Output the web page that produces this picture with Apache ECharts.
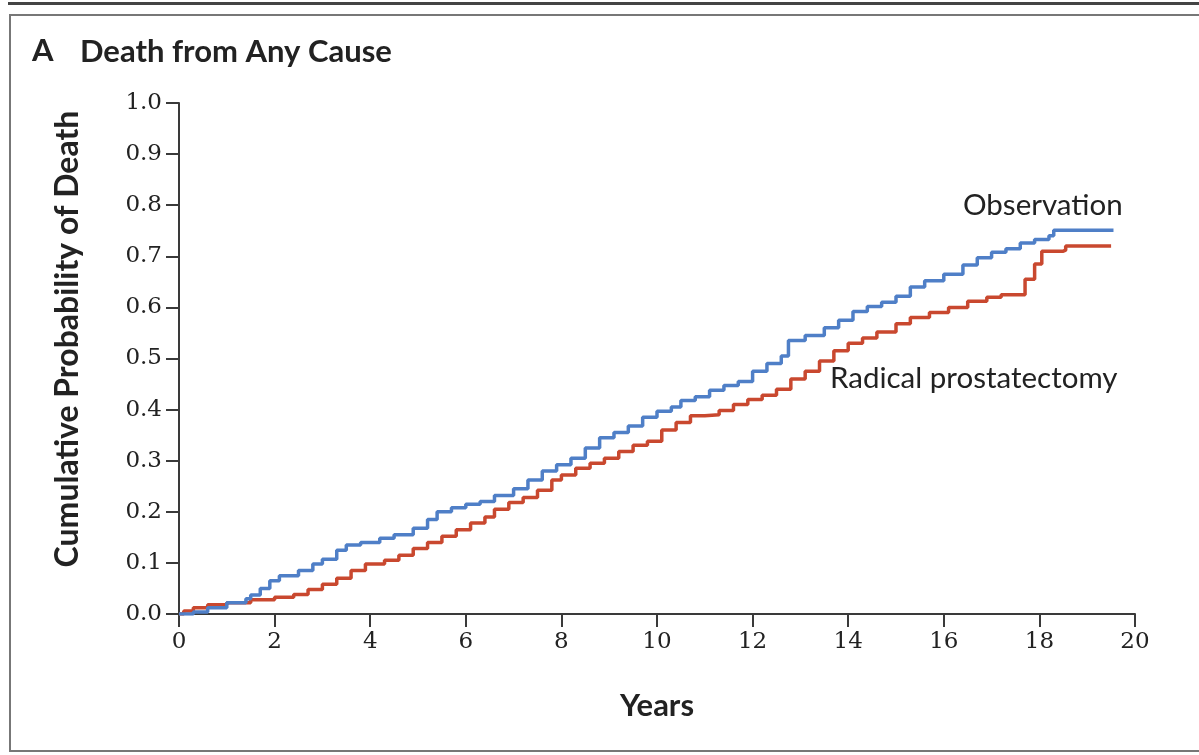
<!DOCTYPE html>
<html>
<head>
<meta charset="utf-8">
<script src="https://cdn.jsdelivr.net/npm/echarts@6/dist/echarts.min.js"></script>
<style>
  html, body { margin: 0; padding: 0; background: #fff; }
  #chart { width: 1199px; height: 755px; }
</style>
</head>
<body>
<div id="chart"></div>
<script>
// Kaplan-Meier style cumulative death curves
const yTicks = [0, 0.1, 0.2, 0.3, 0.4, 0.5, 0.6, 0.7, 0.8, 0.9, 1.0];
const xTicks = [0, 2, 4, 6, 8, 10, 12, 14, 16, 18, 20];

const observationYears = [0, 0.3, 0.6, 1.0, 1.4, 1.5, 1.7, 1.9, 2.1, 2.5, 2.8, 3.0, 3.3, 3.5, 3.8, 4.2, 4.5, 4.9, 5.2, 5.4, 5.7, 6.0, 6.3, 6.6, 7.0, 7.3, 7.6, 7.9, 8.2, 8.5, 8.8, 9.1, 9.4, 9.7, 10.0, 10.3, 10.5, 10.8, 11.1, 11.4, 11.7, 12.0, 12.3, 12.6, 12.75, 13.1, 13.5, 13.8, 14.1, 14.4, 14.7, 15.0, 15.3, 15.6, 16.0, 16.4, 16.7, 17.0, 17.3, 17.6, 17.9, 18.2, 18.3, 19.55];
const observationValues = [0, 0.004, 0.012, 0.022, 0.03, 0.037, 0.05, 0.065, 0.075, 0.085, 0.098, 0.107, 0.125, 0.135, 0.14, 0.148, 0.155, 0.168, 0.185, 0.2, 0.208, 0.215, 0.22, 0.232, 0.245, 0.262, 0.28, 0.292, 0.305, 0.325, 0.345, 0.355, 0.368, 0.385, 0.397, 0.405, 0.418, 0.425, 0.438, 0.447, 0.455, 0.475, 0.49, 0.505, 0.535, 0.545, 0.56, 0.575, 0.592, 0.602, 0.61, 0.622, 0.64, 0.652, 0.665, 0.683, 0.697, 0.708, 0.715, 0.726, 0.733, 0.74, 0.751, 0.751];

const surgeryYears = [0, 0.1, 0.3, 0.6, 1.0, 1.5, 2.0, 2.4, 2.7, 3.0, 3.3, 3.6, 3.9, 4.3, 4.6, 4.9, 5.2, 5.5, 5.8, 6.1, 6.4, 6.6, 6.9, 7.2, 7.5, 7.8, 8.0, 8.3, 8.6, 8.9, 9.2, 9.5, 9.8, 10.1, 10.4, 10.7, 11.0, 11.3, 11.6, 11.9, 12.2, 12.5, 12.8, 13.1, 13.4, 13.7, 14.0, 14.3, 14.6, 15.0, 15.3, 15.7, 16.1, 16.5, 16.9, 17.2, 17.55, 17.7, 17.9, 18.05, 18.5, 18.55, 19.5];
const surgeryValues = [0, 0.006, 0.012, 0.018, 0.022, 0.028, 0.033, 0.038, 0.048, 0.058, 0.07, 0.085, 0.098, 0.105, 0.115, 0.128, 0.14, 0.152, 0.165, 0.178, 0.19, 0.205, 0.218, 0.228, 0.242, 0.262, 0.272, 0.285, 0.295, 0.305, 0.318, 0.33, 0.338, 0.36, 0.375, 0.388, 0.39, 0.398, 0.41, 0.42, 0.428, 0.44, 0.46, 0.475, 0.495, 0.515, 0.53, 0.54, 0.552, 0.568, 0.58, 0.59, 0.6, 0.612, 0.62, 0.625, 0.625, 0.655, 0.685, 0.71, 0.712, 0.72, 0.72];

const pair = (xs, ys) => xs.map((x, i) => [x, ys[i]]);

const sans = "Lato, 'Open Sans', sans-serif";
const serif = "'DejaVu Serif', 'Liberation Serif', serif";
const axisColor = "#3a3a3a";

let myChart = echarts.init(document.getElementById("chart"));

let options = {
  animation: false,
  backgroundColor: "#fff",
  grid: { left: 179, right: 64, top: 103, bottom: 141 },
  xAxis: {
    type: "value",
    min: 0,
    max: 20,
    interval: 2,
    name: "Years",
    nameLocation: "middle",
    nameGap: 76,
    nameTextStyle: { fontFamily: sans, fontWeight: "bold", fontSize: 31, color: "#222" },
    axisLine: { lineStyle: { color: axisColor, width: 2 } },
    axisTick: { show: true, length: 13, lineStyle: { color: axisColor, width: 2 } },
    axisLabel: { fontFamily: serif, fontSize: 23, color: "#222", margin: 17 },
    splitLine: { show: false },
  },
  yAxis: {
    type: "value",
    min: 0,
    max: 1,
    interval: 0.1,
    axisLine: { show: true, lineStyle: { color: axisColor, width: 2 } },
    axisTick: { show: true, length: 13, lineStyle: { color: axisColor, width: 2 } },
    axisLabel: {
      fontFamily: serif, fontSize: 23, color: "#222", margin: 17,
      formatter: (v) => v.toFixed(1),
    },
    splitLine: { show: false },
  },
  series: [
    {
      name: "Observation",
      type: "line",
      step: "end",
      symbol: "none",
      data: pair(observationYears, observationValues),
      lineStyle: { color: "#4f7fc7", width: 3.5 },
      z: 3,
    },
    {
      name: "Radical prostatectomy",
      type: "line",
      step: "end",
      symbol: "none",
      data: pair(surgeryYears, surgeryValues),
      lineStyle: { color: "#c9482f", width: 3.5 },
      z: 2,
    },
  ],
  graphic: [
    // top rule and panel frame
    { type: "rect", shape: { x: 8, y: 2, width: 1200, height: 3 }, style: { fill: "#444" } },
    { type: "rect", shape: { x: 10, y: 15, width: 1200, height: 736 }, style: { fill: "none", stroke: "#777", lineWidth: 2 } },
    { type: "text", left: 32, top: 35, style: { text: "A", fontFamily: sans, fontWeight: "bold", fontSize: 31, fill: "#222" } },
    { type: "text", left: 80, top: 36, style: { text: "Death from Any Cause", fontFamily: sans, fontWeight: "bold", fontSize: 31, fill: "#222" } },
    {
      type: "text", x: 68, y: 339, rotation: Math.PI / 2,
      style: { text: "Cumulative Probability of Death", fontFamily: sans, fontWeight: "bold", fontSize: 32, fill: "#222", align: "center", verticalAlign: "middle" },
    },
    { type: "text", left: 963, top: 190, style: { text: "Observation", fontFamily: sans, fontSize: 29.5, fill: "#222" } },
    { type: "text", left: 830, top: 363, style: { text: "Radical prostatectomy", fontFamily: sans, fontSize: 29.5, fill: "#222" } },
  ],
};

myChart.setOption(options);
</script>
</body>
</html>
